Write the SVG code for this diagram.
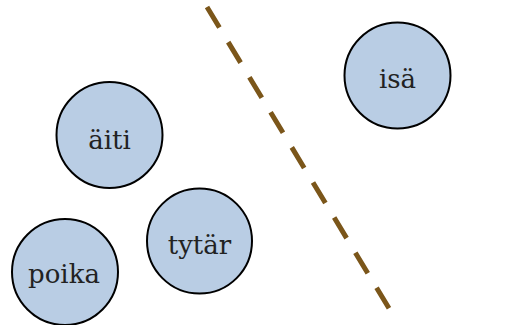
<svg xmlns="http://www.w3.org/2000/svg" width="508" height="325" viewBox="0 0 508 325">
<style>
.n circle{fill:#b9cde4;stroke:#000;stroke-width:2}
.n text{font-family:"DejaVu Serif","Liberation Serif",serif;font-size:26px;fill:#222;text-anchor:middle}
</style>
<rect width="508" height="325" fill="#fff"/>
<g id="connectors">
<line x1="207" y1="7" x2="390" y2="310" stroke="#7b561a" stroke-width="5" stroke-dasharray="24 17"/>
</g>
<g id="aiti" class="n"><circle cx="109.5" cy="135" r="53"/><text x="109.5" y="149">äiti</text></g>
<g id="isa" class="n"><circle cx="397.5" cy="75.5" r="53"/><text x="397.5" y="88">isä</text></g>
<g id="tytar" class="n"><circle cx="199.5" cy="241" r="52.5"/><text x="199.5" y="254">tytär</text></g>
<g id="poika" class="n"><circle cx="65" cy="272" r="53"/><text x="64" y="283">poika</text></g>
</svg>
